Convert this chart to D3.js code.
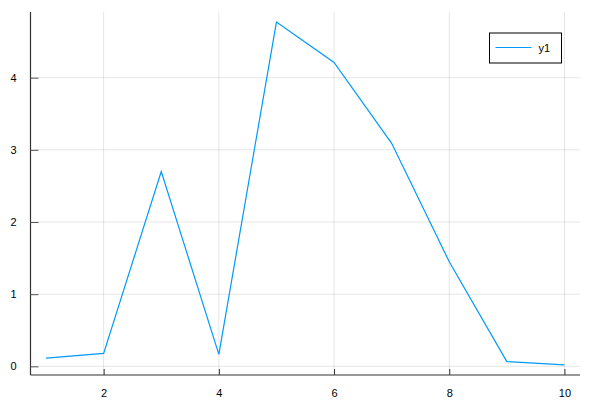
<!DOCTYPE html>
<html>
<head>
<meta charset="utf-8">
<script src="https://cdn.jsdelivr.net/npm/d3@7"></script>
<style>
  body { margin: 0; background: #fff; }
  text { font-family: "Liberation Sans", Arial, sans-serif; }
</style>
</head>
<body>
<svg id="chart" width="600" height="400"></svg>
<script>
const xValues = [1, 2, 3, 4, 5, 6, 7, 8, 9, 10];
const yValues = [0.115, 0.18, 2.70, 0.166, 4.77, 4.21, 3.09, 1.45, 0.066, 0.02];
const xTicks = [2, 4, 6, 8, 10];
const yTicks = [0, 1, 2, 3, 4];
const seriesName = "y1";

const svg = d3.select("#chart");
const plotLeft = 30.5, plotRight = 580, plotTop = 12, plotBottom = 375;

const x = d3.scaleLinear().domain([0.73, 10.27]).range([plotLeft, plotRight]);
const y = d3.scaleLinear().domain([-0.12, 4.91]).range([plotBottom, plotTop]);

// grid
svg.append("g").selectAll("line")
    .data(xTicks)
    .join("line")
    .attr("x1", d => x(d)).attr("x2", d => x(d))
    .attr("y1", plotTop).attr("y2", plotBottom)
    .attr("stroke", "#000").attr("stroke-opacity", 0.1).attr("stroke-width", 1);

svg.append("g").selectAll("line")
    .data(yTicks)
    .join("line")
    .attr("x1", plotLeft).attr("x2", plotRight)
    .attr("y1", d => y(d)).attr("y2", d => y(d))
    .attr("stroke", "#000").attr("stroke-opacity", 0.1).attr("stroke-width", 1);

// axes
const xAxis = d3.axisBottom(x).tickValues(xTicks).tickFormat(d3.format("d"))
    .tickSizeInner(-6).tickSizeOuter(0).tickPadding(14);
const yAxis = d3.axisLeft(y).tickValues(yTicks).tickFormat(d3.format("d"))
    .tickSizeInner(-8).tickSizeOuter(0).tickPadding(14);

const gx = svg.append("g").attr("transform", `translate(0,${plotBottom})`).call(xAxis);
gx.select(".domain").attr("d", `M${plotLeft},0H${plotRight}`).attr("stroke", "#333").attr("stroke-width", 1.2);
gx.selectAll(".tick line").attr("stroke", "#333");
gx.selectAll("text").style("font-size", "11px").attr("fill", "#000");

const gy = svg.append("g").attr("transform", `translate(${plotLeft},0)`).call(yAxis);
gy.select(".domain").attr("d", `M0,${plotTop}V${plotBottom}`).attr("stroke", "#333").attr("stroke-width", 1.2);
gy.selectAll(".tick line").attr("stroke", "#555");
gy.selectAll("text").style("font-size", "11px").attr("fill", "#000");

// series
const line = d3.line().x((d, i) => x(xValues[i])).y(d => y(d));
svg.append("path")
    .datum(yValues)
    .attr("d", line)
    .attr("fill", "none")
    .attr("stroke", "#009af9")
    .attr("stroke-width", 1.2);

// legend
const legend = svg.append("g").attr("transform", "translate(489.5,33)");
legend.append("rect")
    .attr("width", 72).attr("height", 30)
    .attr("fill", "#fff").attr("stroke", "#000").attr("stroke-width", 1);
legend.append("line")
    .attr("x1", 6).attr("x2", 42).attr("y1", 14.5).attr("y2", 14.5)
    .attr("stroke", "#009af9").attr("stroke-width", 1.2);
legend.append("text")
    .attr("x", 49).attr("y", 18.5)
    .style("font-size", "11px")
    .text(seriesName);
</script>
</body>
</html>
